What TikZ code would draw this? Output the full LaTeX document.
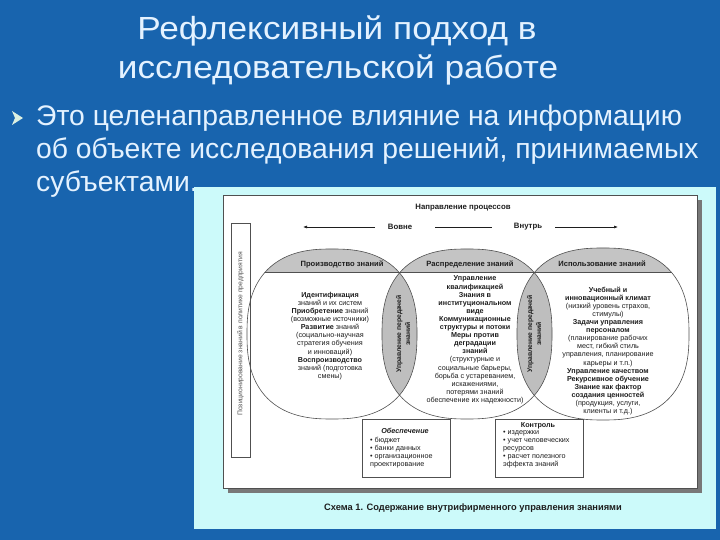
\documentclass[tikz,border=0pt]{standalone}
\usepackage{fontspec}
\setmainfont{Liberation Sans}
\newfontfamily\titlefont[FakeStretch=1.1]{Liberation Sans}
\usetikzlibrary{arrows.meta}
\definecolor{slidebg}{RGB}{24,100,174}
\definecolor{slidetext}{RGB}{228,242,255}
\definecolor{panelc}{RGB}{204,250,250}
\definecolor{shadowc}{RGB}{120,120,120}
\definecolor{ink}{RGB}{30,30,30}
\definecolor{capc}{RGB}{196,196,196}
\definecolor{lensc}{RGB}{190,190,190}
\definecolor{linec}{RGB}{80,80,80}
\definecolor{bulletc}{RGB}{220,240,225}
\newcommand\blob[3]{plot[domain=1:359,samples=180] ({#1+#3*sign(cos(\x))*abs(cos(\x))^(0.8)},{#2+#3*sign(sin(\x))*abs(sin(\x))^(0.8)}) -- cycle}
\begin{document}
\begin{tikzpicture}[x=1pt,y=-1pt,
  titlestyle/.style={text=slidetext, inner sep=0pt, font=\titlefont\fontsize{32}{38}\selectfont},
  bodystyle/.style={text=slidetext, inner sep=0pt, font=\fontsize{28.3}{33}\selectfont},
  dtext/.style={text=ink, inner sep=0pt, align=center, font=\fontsize{7.2}{8.1}\selectfont},
  captext/.style={text=ink, inner sep=0pt, font=\bfseries\fontsize{7.6}{9}\selectfont},
  lenstext/.style={text=ink, inner sep=0pt, align=center, rotate=90, font=\bfseries\fontsize{6.8}{9}\selectfont},
  hdrtext/.style={text=ink, inner sep=0pt, font=\bfseries\fontsize{7.8}{9}\selectfont},
  boxtext/.style={text=ink, inner sep=0pt, align=left, font=\fontsize{7.2}{8}\selectfont},
  framebox/.style={draw=linec, line width=0.6pt, fill=white},
  outline/.style={draw=linec, line width=0.6pt},
  harrow/.style={draw=ink, line width=0.6pt, -{Latex[length=4pt,width=3pt]}},
  hline/.style={draw=ink, line width=0.6pt}]
\useasboundingbox (0,0) rectangle (720,540);
\fill[slidebg] (0,0) rectangle (720,540);
% title
\node[titlestyle, anchor=base] (t1) at (337,40) {Рефлексивный подход в};
\node[titlestyle, anchor=base] (t2) at (338,79) {исследовательской работе};
% bullet
\fill[bulletc] (12,111) -- (23,118) -- (12,125) -- (15,118) -- cycle;
\node[bodystyle, anchor=base west] (b1) at (36,126) {Это целенаправленное влияние на информацию};
\node[bodystyle, anchor=base west] (b2) at (36,159) {об объекте исследования решений, принимаемых};
\node[bodystyle, anchor=base west] (b3) at (36,192) {субъектами.};
% panel
\fill[panelc] (194,187) rectangle (716,529);
\fill[shadowc] (228,200) rectangle (702,493);
\draw[framebox] (223,195) rectangle (697,488);
% left vertical box
\draw[outline] (231,223) rectangle (250,457);
\node[text=linec, inner sep=0pt, rotate=90, font=\fontsize{6.8}{8}\selectfont] (vt) at (240.5,334) {Позиционирование знаний в политике предприятия};
% header
\node[hdrtext] (hdr) at (463,208) {Направление процессов};
\node[hdrtext] (out) at (400,227) {Вовне};
\node[hdrtext] (in) at (528,227) {Внутрь};
\coordinate (la0) at (375,227);
\coordinate (la1) at (303,227);
\coordinate (ml0) at (435,227);
\coordinate (ml1) at (492,227);
\coordinate (ra0) at (555,227);
\coordinate (ra1) at (618,227);
\draw[harrow] (la0) -- (la1);
\draw[hline] (ml0) -- (ml1);
\draw[harrow] (ra0) -- (ra1);
% caps
\begin{scope}
\clip \blob{332}{334}{85};
\fill[capc] (240,240) rectangle (430,272);
\draw[outline] (240,272) -- (430,272);
\end{scope}
\begin{scope}
\clip \blob{467}{334}{85};
\fill[capc] (370,240) rectangle (560,272);
\draw[outline] (370,272) -- (560,272);
\end{scope}
\begin{scope}
\clip \blob{603}{334}{86};
\fill[capc] (510,240) rectangle (700,272);
\draw[outline] (510,272) -- (700,272);
\end{scope}
% lenses
\begin{scope}
\clip \blob{332}{334}{85};
\fill[lensc] \blob{467}{334}{85};
\end{scope}
\begin{scope}
\clip \blob{467}{334}{85};
\fill[lensc] \blob{603}{334}{86};
\end{scope}
% outlines
\draw[outline] \blob{332}{334}{85};
\draw[outline] \blob{467}{334}{85};
\draw[outline] \blob{603}{334}{86};
% cap labels
\node[captext] (c1) at (342,264) {Производство знаний};
\node[captext] (c2) at (470,264) {Распределение знаний};
\node[captext] (c3) at (602,264) {Использование знаний};
% lens labels
\node[lenstext] (l1) at (403,334) {Управление передачей\\знаний};
\node[lenstext] (l2) at (534,334) {Управление передачей\\знаний};
% circle texts
\node[dtext] (lt) at (330,336) {\textbf{Идентификация}\\знаний и их систем\\\textbf{Приобретение} знаний\\(возможные источники)\\\textbf{Развитие} знаний\\(социально-научная\\стратегия обучения\\и инноваций)\\\textbf{Воспроизводство}\\знаний (подготовка\\смены)};
\node[dtext] (mt) at (475,340) {\textbf{Управление}\\\textbf{квалификацией}\\\textbf{Знания в}\\\textbf{институциональном}\\\textbf{виде}\\\textbf{Коммуникационные}\\\textbf{структуры и потоки}\\\textbf{Меры против}\\\textbf{деградации}\\\textbf{знаний}\\(структурные и\\социальные барьеры,\\борьба с устареванием,\\искажениями,\\потерями знаний\\обеспечение их надежности)};
\node[dtext] (rt) at (608,351) {\textbf{Учебный и}\\\textbf{инновационный климат}\\(низкий уровень страхов,\\стимулы)\\\textbf{Задачи управления}\\\textbf{персоналом}\\(планирование рабочих\\мест, гибкий стиль\\управления, планирование\\карьеры и т.п.)\\\textbf{Управление качеством}\\\textbf{Рекурсивное обучение}\\\textbf{Знание как фактор}\\\textbf{создания ценностей}\\(продукция, услуги,\\клиенты и т.д.)};
% bottom boxes
\draw[framebox] (362,419) rectangle (450,477);
\node[dtext, font=\bfseries\itshape\fontsize{7.2}{8}\selectfont] (ob) at (405,431) {Обеспечение};
\node[boxtext, anchor=north west] (obl) at (370,437) {• бюджет\\• банки данных\\• организационное\\проектирование};
\draw[framebox] (495,419) rectangle (583,477);
\node[dtext, font=\bfseries\fontsize{7.2}{8}\selectfont] (ko) at (538,426) {Контроль};
\node[boxtext, anchor=north west] (kol) at (503,430) {• издержки\\• учет человеческих\\ресурсов\\• расчет полезного\\эффекта знаний};
% caption
\node[text=ink, inner sep=0pt, font=\bfseries\fontsize{9.3}{11}\selectfont] (cap) at (473,508) {Схема 1. Содержание внутрифирменного управления знаниями};
\end{tikzpicture}
\end{document}
